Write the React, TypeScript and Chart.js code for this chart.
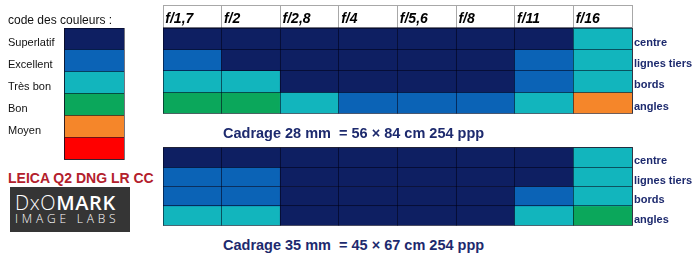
import React, { useEffect, useRef } from "react";
import { Chart, registerables } from "chart.js";

Chart.register(...registerables);

// ---------- data ----------
const apertures = ["f/1,7", "f/2", "f/2,8", "f/4", "f/5,6", "f/8", "f/11", "f/16"];
const zones = ["centre", "lignes tiers", "bords", "angles"];
const levelNames = ["Superlatif", "Excellent", "Très bon", "Bon", "Moyen", ""];
const levelColors = ["#0e1f62", "#0b63b6", "#12b5bd", "#0ba75b", "#f5862a", "#ff0000"];

// rating level per aperture: 0 Superlatif, 1 Excellent, 2 Très bon, 3 Bon, 4 Moyen
const crop28Centre = [0, 0, 0, 0, 0, 0, 0, 2];
const crop28Tiers = [1, 0, 0, 0, 0, 0, 1, 2];
const crop28Bords = [2, 2, 0, 0, 0, 0, 1, 2];
const crop28Angles = [3, 3, 2, 1, 1, 1, 2, 4];

const crop35Centre = [0, 0, 0, 0, 0, 0, 0, 2];
const crop35Tiers = [1, 1, 0, 0, 0, 0, 0, 2];
const crop35Bords = [1, 1, 0, 0, 0, 0, 1, 2];
const crop35Angles = [2, 2, 0, 0, 0, 0, 2, 3];

const legendTitle = "code des couleurs :";
const caption28 = "Cadrage 28 mm  = 56 × 84 cm 254 ppp";
const caption35 = "Cadrage 35 mm  = 45 × 67 cm 254 ppp";
const cameraLabel = "LEICA Q2 DNG LR CC";

// ---------- styles ----------
const FONT = "'Liberation Sans', Arial, sans-serif";
const NAVY = "#1d2a6e";
const LINE = "rgba(0,0,20,0.55)";
const HEADER_LINE = "#a8a8a8";

function gridConfig(rows: number[][], withHeader: boolean, bottomPad: number, topPad: number): any {
  return {
    type: "bar",
    data: {
      labels: apertures,
      datasets: rows.map((levels, r) => ({
        data: levels.map(() => [r, r + 1]),
        backgroundColor: levels.map((l) => levelColors[l]),
        grouped: false,
        barPercentage: 1,
        categoryPercentage: 1,
        borderWidth: 0,
        borderSkipped: false,
        xAxisID: "x",
        yAxisID: "y",
      })),
    },
    options: {
      responsive: false,
      animation: false,
      devicePixelRatio: 1,
      layout: { padding: { top: topPad, left: 0, right: 0, bottom: bottomPad } },
      plugins: { legend: { display: false }, tooltip: { enabled: false }, title: { display: false } },
      scales: {
        x: {
          type: "category",
          labels: apertures,
          position: "top",
          offset: true,
          grid: {
            offset: true,
            color: LINE,
            tickColor: HEADER_LINE,
            tickLength: 23,
            drawTicks: withHeader,
            z: 1,
          },
          border: { display: true, color: LINE, z: 2 },
          ticks: {
            display: withHeader,
            align: "start",
            labelOffset: -27,
            padding: -23,
            maxRotation: 0,
            minRotation: 0,
            autoSkip: false,
            color: "#000",
            font: { family: FONT, size: 14, weight: "bold", style: "italic" },
          },
          afterFit: (s: any) => {
            s.height = withHeader ? 23 : 0;
          },
        },
        x2: {
          type: "category",
          labels: apertures,
          position: "top",
          weight: 1,
          offset: true,
          display: withHeader,
          grid: { display: false, drawTicks: false },
          ticks: { display: false },
          border: { display: true, color: HEADER_LINE, z: 2 },
          afterFit: (s: any) => {
            s.height = 0;
          },
        },
        y: {
          type: "linear",
          min: 0,
          max: rows.length,
          reverse: true,
          display: false,
        },
        y2: {
          type: "category",
          labels: zones,
          position: "right",
          offset: true,
          grid: { offset: true, color: LINE, drawTicks: false, z: 1 },
          border: { display: true, color: LINE, z: 2 },
          ticks: {
            padding: 2,
            labelOffset: 4,
            autoSkip: false,
            color: NAVY,
            font: { family: FONT, size: 11, weight: "bold" },
          },
          afterFit: (s: any) => {
            s.width = 68;
          },
        },
      },
    },
  };
}

function legendConfig(): any {
  return {
    type: "bar",
    data: {
      labels: levelNames,
      datasets: [
        {
          data: levelNames.map(() => 1),
          backgroundColor: levelColors,
          barPercentage: 1,
          categoryPercentage: 1,
          borderWidth: 0,
        },
      ],
    },
    options: {
      indexAxis: "y",
      responsive: false,
      animation: false,
      devicePixelRatio: 1,
      layout: { padding: { top: 0, left: 8, right: 1, bottom: 2 } },
      plugins: {
        legend: { display: false },
        tooltip: { enabled: false },
        title: {
          display: true,
          text: legendTitle,
          align: "start",
          color: "#111",
          font: { family: FONT, size: 12, weight: "normal", lineHeight: 1.25 },
          padding: { top: 13, bottom: 0 },
        },
      },
      scales: {
        y: {
          type: "category",
          position: "left",
          offset: true,
          grid: { offset: true, color: LINE, drawTicks: false, z: 1 },
          border: { display: true, color: LINE, z: 2 },
          ticks: {
            crossAlign: "far",
            labelOffset: 4,
            padding: 0,
            autoSkip: false,
            color: "#111",
            font: { family: FONT, size: 11 },
          },
          afterFit: (s: any) => {
            s.width = 56;
          },
        },
        x: {
          type: "linear",
          min: 0,
          max: 1,
          position: "bottom",
          grid: { color: LINE, drawTicks: false, z: 1 },
          border: { display: true, color: LINE, z: 2 },
          ticks: { display: false, stepSize: 1 },
          afterFit: (s: any) => {
            s.height = 0;
          },
        },
      },
    },
  };
}

function ChartCanvas(props: { config: () => any; left: number; top: number; width: number; height: number }) {
  const ref = useRef<HTMLCanvasElement | null>(null);
  useEffect(() => {
    if (!ref.current) return;
    const chart = new Chart(ref.current, props.config());
    return () => chart.destroy();
  }, []);
  return (
    <canvas
      ref={ref}
      width={props.width}
      height={props.height}
      style={{ position: "absolute", left: props.left, top: props.top, width: props.width, height: props.height }}
    />
  );
}

export default function App() {
  const captionStyle: React.CSSProperties = {
    position: "absolute",
    left: 223,
    fontFamily: FONT,
    fontWeight: "bold",
    fontSize: 14.5,
    lineHeight: "14px",
    color: NAVY,
    whiteSpace: "pre",
  };
  return (
    <div
      style={{
        position: "absolute",
        left: 0,
        top: 0,
        width: 700,
        height: 257,
        background: "#fff",
        overflow: "hidden",
      }}
    >
      <ChartCanvas config={legendConfig} left={0} top={0} width={125} height={166} />
      <ChartCanvas
        config={() => gridConfig([crop28Centre, crop28Tiers, crop28Bords, crop28Angles], true, 2, 5)}
        left={163}
        top={0}
        width={537}
        height={122}
      />
      <ChartCanvas
        config={() => gridConfig([crop35Centre, crop35Tiers, crop35Bords, crop35Angles], false, 2, 2)}
        left={163}
        top={139}
        width={537}
        height={95}
      />
      <div style={{ ...captionStyle, top: 126 }}>{caption28}</div>
      <div style={{ ...captionStyle, top: 238 }}>{caption35}</div>
      <div
        style={{
          position: "absolute",
          left: 8,
          top: 171,
          fontFamily: FONT,
          fontWeight: "bold",
          fontSize: 14,
          lineHeight: "14px",
          color: "#b3202c",
          whiteSpace: "pre",
        }}
      >
        {cameraLabel}
      </div>
      <div
        style={{
          position: "absolute",
          left: 10,
          top: 187,
          width: 120,
          height: 45,
          background: "#353535",
          color: "#fff",
          fontFamily: "'Open Sans', 'DejaVu Sans', sans-serif",
        }}
      >
        <div
          style={{
            position: "absolute",
            left: 5,
            top: 6,
            fontSize: 20,
            lineHeight: "20px",
            letterSpacing: 0.6,
            whiteSpace: "pre",
          }}
        >
          <span style={{ fontWeight: 300 }}>DxO</span>
          <span style={{ fontWeight: 600 }}>MARK</span>
        </div>
        <div
          style={{
            position: "absolute",
            left: 5,
            top: 26,
            fontSize: 12,
            lineHeight: "12px",
            letterSpacing: 3.8,
            fontWeight: 300,
            whiteSpace: "pre",
          }}
        >
          IMAGE LABS
        </div>
      </div>
    </div>
  );
}
